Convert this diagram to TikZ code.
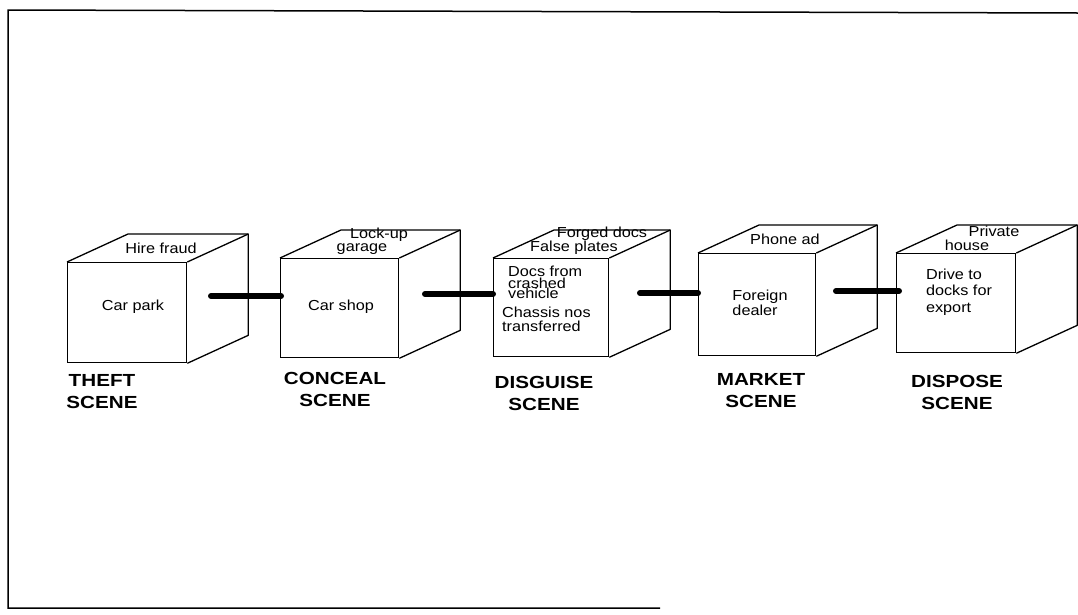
\documentclass[tikz,border=0pt]{standalone}
\usepackage{fontspec}
\setmainfont[FakeStretch=1.12]{Liberation Sans}
\newfontfamily\scenefont[FakeStretch=1.18]{Liberation Sans}
\usepackage{tikz}
\usetikzlibrary{positioning,calc}

\tikzset{
  face/.style={draw, line width=1.3pt, rectangle, inner sep=0pt, anchor=north west},
  edge/.style={line width=1.3pt, line join=round},
  facetext/.style={inner sep=0pt, font=\fontsize{14.5}{17}\selectfont},
  toptext/.style={inner sep=0pt, font=\fontsize{14.5}{17}\selectfont},
  scenelabel/.style={inner sep=0pt, align=center, font=\scenefont\bfseries\fontsize{17.5}{22}\selectfont},
  bar/.style={line width=6pt, line cap=round},
}

\begin{document}
\begin{tikzpicture}[x=1pt, y=-1pt]
  \useasboundingbox (0,0) rectangle (1078,614);

  % Frame (open on the right)
  \draw[line width=1.5pt] (1078,13) -- (8,10) -- (8,608) -- (660,608);

  % Front faces
  \node[face, minimum width=119pt, minimum height=100pt] (theft)    at (67,262)  {};
  \node[face, minimum width=118pt, minimum height=99pt]  (conceal)  at (280,258) {};
  \node[face, minimum width=115pt, minimum height=98pt]  (disguise) at (493,258) {};
  \node[face, minimum width=117pt, minimum height=102pt] (market)   at (698,253) {};
  \node[face, minimum width=119pt, minimum height=99pt]  (dispose)  at (896,253) {};

  % Top and side faces
  \foreach \n in {theft,conceal,disguise,market,dispose} {
    \draw[edge] (\n.north west) -- ([shift={(61,-28)}]\n.north west)
      -- ([shift={(61,-28)}]\n.north east) -- ([shift={(61,-28)}]\n.south east)
      -- (\n.south east);
    \draw[edge] (\n.north east) -- ([shift={(61,-28)}]\n.north east);
  }

  % Texts on the top faces
  \node[toptext] (theft-top)     at (161,248) {Hire fraud};
  \node[toptext] (conceal-top)   at (379,235) {Lock-up};
  \node[toptext] (conceal-top2)  at (362,249) {garage};
  \node[toptext] (disguise-top)  at (602,234) {Forged docs};
  \node[toptext] (disguise-top2) at (574,248) {False plates};
  \node[toptext] (market-top)    at (785,239) {Phone ad};
  \node[toptext] (dispose-top)   at (994,231) {Private};
  \node[toptext] (dispose-top2)  at (967,245) {house};

  % Texts on the front faces
  \node[facetext] (theft-txt)   at (133,307) {Car park};
  \node[facetext] (conceal-txt) at (341,307) {Car shop};
  \node[facetext, align=left, anchor=north west] (disguise-txt) at (508,266)
    {Docs from\\[-5pt]crashed\\[-7pt]vehicle};
  \node[facetext, align=left, anchor=north west] (disguise-txt2) at (502,307)
    {Chassis nos\\[-3pt]transferred};
  \node[facetext, align=left] (market-txt)  at (760,303) {Foreign\\[-2pt]dealer};
  \node[facetext, align=left] (dispose-txt) at (959,292) {Drive to\\[-0.5pt]docks for\\[-0.5pt]export};

  % Scene names
  \node[scenelabel] (theft-lbl)    at (102,392) {THEFT\\SCENE};
  \node[scenelabel] (conceal-lbl)  at (335,389) {CONCEAL\\SCENE};
  \node[scenelabel] (disguise-lbl) at (544,393) {DISGUISE\\SCENE};
  \node[scenelabel] (market-lbl)   at (761,391) {MARKET\\SCENE};
  \node[scenelabel] (dispose-lbl)  at (957,392) {DISPOSE\\SCENE};

  % Links between scenes
  \coordinate (theft-out)    at (211,296);
  \coordinate (conceal-out)  at (425,294);
  \coordinate (disguise-out) at (640,293);
  \coordinate (market-out)   at (836,291);
  \draw[bar] (theft-out)    -- ([xshift=1pt]theft-out -| conceal.west);
  \draw[bar] (conceal-out)  -- (conceal-out -| disguise.west);
  \draw[bar] (disguise-out) -- (disguise-out -| market.west);
  \draw[bar] (market-out)   -- ([xshift=3pt]market-out -| dispose.west);
\end{tikzpicture}
\end{document}
